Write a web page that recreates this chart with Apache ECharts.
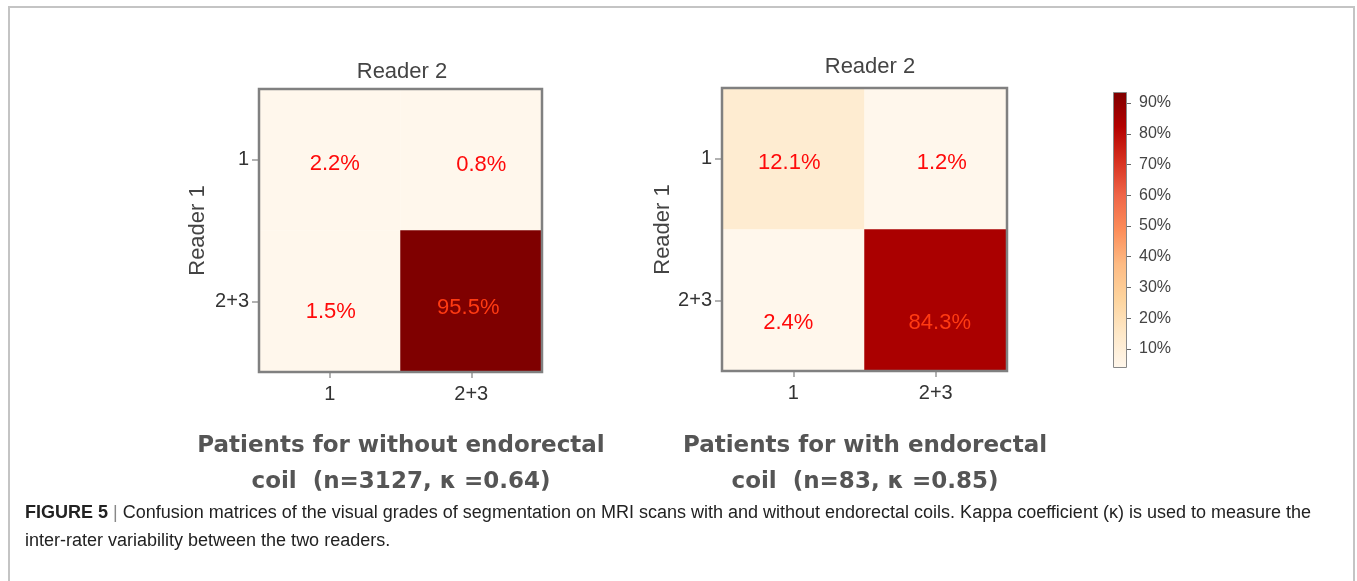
<!DOCTYPE html>
<html>
<head>
<meta charset="utf-8">
<script src="https://cdn.jsdelivr.net/npm/echarts@6/dist/echarts.min.js"></script>
<style>
  html, body { margin: 0; padding: 0; background: #fff; }
  #chart { width: 1357px; height: 581px; }
</style>
</head>
<body>
<div id="chart"></div>
<script>
// categories of the two confusion matrices
const reader2Cats = ['1', '2+3'];
const reader1Cats = ['1', '2+3'];
// [reader2 index, reader1 index, percent]
const withoutCoil = [[0, 0, 2.2], [1, 0, 0.8], [0, 1, 1.5], [1, 1, 95.5]];
const withCoil = [[0, 0, 12.1], [1, 0, 1.2], [0, 1, 2.4], [1, 1, 84.3]];
// colour bar
const colorbarTicks = [10, 20, 30, 40, 50, 60, 70, 80, 90];
const colorbarMin = 3.8;
const colorbarMax = 93.6;
const orRd = ['#fff7ec', '#fee8c8', '#fdd49e', '#fdbb84', '#fc8d59', '#ef6548', '#d7301f', '#b30000', '#7f0000'];

// label nudges (pixels), same order as the data
const offsetsWithout = [[5, 4], [10, 5], [1, 11], [-3, 7]];
const offsetsWith = [[-4, 4], [6, 4], [-5, 23], [4, 23]];

var chartDom = document.getElementById('chart');
var myChart = echarts.init(chartDom);

// layout of the three plot boxes
const boxL = { left: 259, top: 89, width: 283, height: 283 };
const boxR = { left: 722, top: 88, width: 285, height: 283 };
const boxC = { left: 1113, top: 92, width: 14, height: 276 };

function cells(arr, offs) {
  return arr.map(function (d, i) {
    return {
      value: d,
      label: { color: d[2] > 50 ? '#ff3a12' : '#ff0a0a', offset: offs[i] }
    };
  });
}

// gradient for the colour bar: top = max colour
const stops = orRd.slice().reverse().map(function (c, i) {
  return { offset: i / (orRd.length - 1), color: c };
});

const axisFont = 'Liberation Sans, Arial, sans-serif';
const boldFont = 'DejaVu Sans, Liberation Sans, sans-serif';

function catX(idx) {
  return {
    type: 'category',
    gridIndex: idx,
    data: reader2Cats,
    axisLine: { show: false },
    axisTick: { show: true, alignWithLabel: true, length: 6, lineStyle: { color: '#999', width: 1.5 } },
    axisLabel: { fontSize: 20, color: '#333', margin: 12, fontFamily: axisFont },
    splitLine: { show: false }
  };
}
function catY(idx, gap) {
  return {
    type: 'category',
    gridIndex: idx,
    data: reader1Cats,
    inverse: true,
    axisLine: { show: false },
    axisTick: { show: true, alignWithLabel: true, length: 7, lineStyle: { color: '#999', width: 1.5 } },
    axisLabel: { fontSize: 20, color: '#333', margin: 10, fontFamily: axisFont },
    splitLine: { show: false },
    name: 'Reader 1',
    nameLocation: 'middle',
    nameRotate: 90,
    nameGap: gap,
    nameTextStyle: { fontSize: 22, color: '#444', fontFamily: axisFont }
  };
}

var option = {
  animation: false,
  backgroundColor: '#fff',
  title: [
    { text: 'Reader 2', left: 397, top: 56, textAlign: 'center',
      textStyle: { fontSize: 22, fontWeight: 'normal', color: '#444', fontFamily: axisFont } },
    { text: 'Reader 2', left: 865, top: 51, textAlign: 'center',
      textStyle: { fontSize: 22, fontWeight: 'normal', color: '#444', fontFamily: axisFont } },
    { text: 'Patients for without endorectal\ncoil  (n=3127, \u03ba =0.64)', left: 396, top: 423, textAlign: 'center',
      textStyle: { fontSize: 23, fontWeight: 'bold', color: '#555', lineHeight: 36, fontFamily: boldFont } },
    { text: 'Patients for with endorectal\ncoil  (n=83, \u03ba =0.85)', left: 860, top: 423, textAlign: 'center',
      textStyle: { fontSize: 23, fontWeight: 'bold', color: '#555', lineHeight: 36, fontFamily: boldFont } },
    { text: '{b|FIGURE 5} {s||} Confusion matrices of the visual grades of segmentation on MRI scans with and without endorectal coils. Kappa coefficient (\u03ba) is used to measure the\ninter-rater variability between the two readers.',
      left: 20, top: 494,
      textStyle: { fontSize: 18, fontWeight: 'normal', color: '#222', lineHeight: 28, fontFamily: axisFont,
        rich: {
          b: { fontSize: 18, fontWeight: 'bold', color: '#222', fontFamily: axisFont },
          s: { fontSize: 18, color: '#888', fontFamily: axisFont }
        } } }
  ],
  grid: [
    Object.assign({ containLabel: false }, boxL),
    Object.assign({ containLabel: false }, boxR),
    Object.assign({ containLabel: false }, boxC)
  ],
  xAxis: [
    catX(0),
    catX(1),
    { type: 'category', gridIndex: 2, data: ['bar'], show: false }
  ],
  yAxis: [
    catY(0, 50),
    catY(1, 37),
    {
      type: 'value', gridIndex: 2, position: 'right',
      min: colorbarMin, max: colorbarMax,
      axisLine: { show: false },
      splitLine: { show: false },
      axisTick: { show: true, length: 4, customValues: colorbarTicks, lineStyle: { color: '#666' } },
      axisLabel: { customValues: colorbarTicks, formatter: '{value}%', fontSize: 16, color: '#444', margin: 12, fontFamily: axisFont }
    }
  ],
  visualMap: {
    type: 'continuous',
    show: false,
    min: colorbarMin,
    max: colorbarMax,
    seriesIndex: [0, 1],
    inRange: { color: orRd }
  },
  series: [
    {
      type: 'heatmap', xAxisIndex: 0, yAxisIndex: 0,
      data: cells(withoutCoil, offsetsWithout),
      label: { show: true, fontSize: 22, fontFamily: axisFont, formatter: function (p) { return p.value[2] + '%'; } }
    },
    {
      type: 'heatmap', xAxisIndex: 1, yAxisIndex: 1,
      data: cells(withCoil, offsetsWith),
      label: { show: true, fontSize: 22, fontFamily: axisFont, formatter: function (p) { return p.value[2] + '%'; } }
    },
    {
      type: 'bar', xAxisIndex: 2, yAxisIndex: 2, stack: 'cb', silent: true,
      barWidth: '100%', data: [colorbarMin],
      itemStyle: { color: 'transparent' }
    },
    {
      type: 'bar', xAxisIndex: 2, yAxisIndex: 2, stack: 'cb', silent: true,
      barWidth: '100%', data: [colorbarMax - colorbarMin],
      itemStyle: {
        color: new echarts.graphic.LinearGradient(0, 0, 0, 1, stops),
        borderColor: '#888', borderWidth: 1
      }
    }
  ],
  graphic: [
    { type: 'rect', z: 100, silent: true,
      shape: { x: boxL.left, y: boxL.top, width: boxL.width, height: boxL.height },
      style: { fill: 'none', stroke: '#808080', lineWidth: 2.5 } },
    { type: 'rect', z: 100, silent: true,
      shape: { x: boxR.left, y: boxR.top, width: boxR.width, height: boxR.height },
      style: { fill: 'none', stroke: '#808080', lineWidth: 2.5 } },
    { type: 'polyline', z: 100, silent: true,
      shape: { points: [[9, 581], [9, 7], [1354, 7], [1354, 581]] },
      style: { fill: 'none', stroke: '#c4c4c4', lineWidth: 2 } }
  ]
};

option && myChart.setOption(option);
</script>
</body>
</html>
